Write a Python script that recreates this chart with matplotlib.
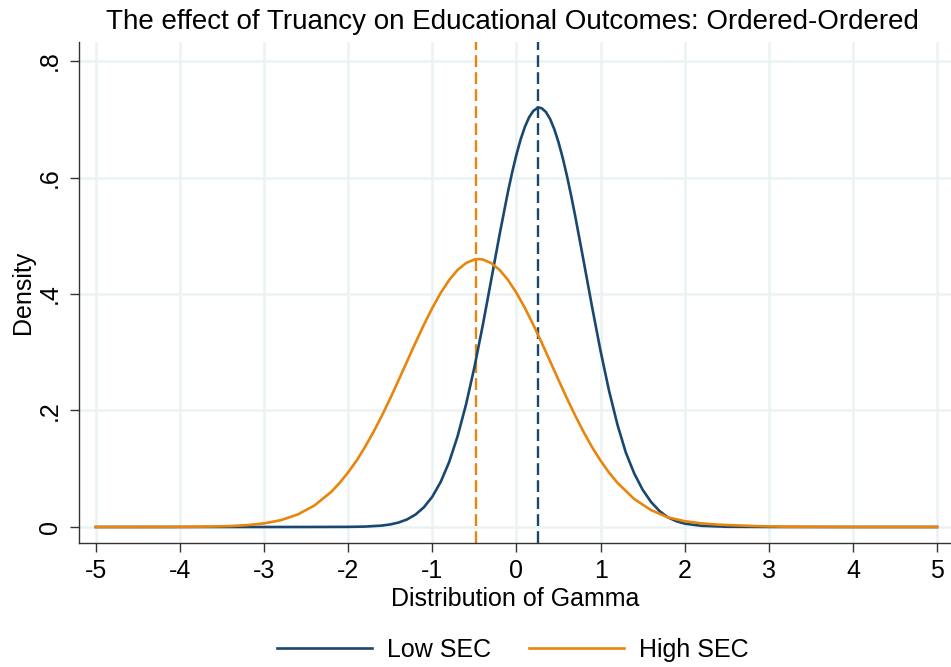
import matplotlib
matplotlib.use("Agg")
import matplotlib.pyplot as plt
from matplotlib.lines import Line2D

plt.rcParams['font.family'] = ['Liberation Sans', 'DejaVu Sans']

TITLE = 'The effect of Truancy on Educational Outcomes: Ordered-Ordered'
X_LABEL = 'Distribution of Gamma'
Y_LABEL = 'Density'
SERIES = ['Low SEC', 'High SEC']
COLORS = ['#1a476f', '#e8850c']

x_ticks = [-5, -4, -3, -2, -1, 0, 1, 2, 3, 4, 5]
y_ticks = [0, 0.2, 0.4, 0.6, 0.8]
y_tick_labels = ['0', '.2', '.4', '.6', '.8']

# means drawn as dashed vertical lines
means = [0.26, -0.48]

# density curve, Low SEC
low_x = [-5.0, -4.0, -3.0, -2.5, -2.0, -1.8, -1.6,
         -1.5, -1.4, -1.3, -1.2, -1.1, -1.0, -0.9, -0.8, -0.7, -0.6,
         -0.5, -0.4, -0.3, -0.2, -0.1, -0.05, 0.0, 0.05, 0.1, 0.15, 0.2, 0.25,
         0.27, 0.3, 0.35, 0.4, 0.45, 0.5, 0.55, 0.6, 0.65, 0.7, 0.8, 0.9, 1.0,
         1.1, 1.2, 1.3, 1.4, 1.5, 1.6, 1.7, 1.8, 1.9, 2.0, 2.2, 2.5, 3.0, 4.0, 5.0]
low_y = [0.0, 0.0, 0.0, 0.0, 0.0002, 0.0007, 0.0024,
         0.0044, 0.0077, 0.0130, 0.0213, 0.0339, 0.0520, 0.0775, 0.1115, 0.1556, 0.2099,
         0.2741, 0.3466, 0.4242, 0.5024, 0.5761, 0.6094, 0.6394, 0.6654, 0.6869, 0.7033, 0.7142, 0.7195,
         0.7200, 0.7189, 0.7125, 0.7005, 0.6830, 0.6605, 0.6337, 0.6030, 0.5691, 0.5328, 0.4556, 0.3772, 0.3022,
         0.2344, 0.1760, 0.1279, 0.0920, 0.0640, 0.0430, 0.0275, 0.0165, 0.0100, 0.0058, 0.0020, 0.0004, 0.0, 0.0, 0.0]

# density curve, High SEC
high_x = [-5.0, -4.5, -4.0, -3.6, -3.4, -3.2, -3.0, -2.8, -2.6, -2.4, -2.2, -2.1,
          -2.0, -1.9, -1.8, -1.7, -1.6, -1.5, -1.4, -1.3, -1.2, -1.1, -1.0, -0.9,
          -0.8, -0.7, -0.6, -0.5, -0.45, -0.4, -0.3, -0.2, -0.1, 0.0, 0.1, 0.2,
          0.3, 0.4, 0.5, 0.6, 0.7, 0.8, 0.9, 1.0, 1.1, 1.2, 1.4, 1.6, 1.8,
          2.0, 2.2, 2.4, 2.6, 2.8, 3.0, 3.2, 4.0, 5.0]
high_y = [0.0, 0.0, 0.0002, 0.0008, 0.0016, 0.0032, 0.0062, 0.0117, 0.0215, 0.0370, 0.0605, 0.0760,
          0.0940, 0.1140, 0.1375, 0.1630, 0.1910, 0.2209, 0.2524, 0.2845, 0.3164, 0.3473, 0.3761, 0.4020,
          0.4240, 0.4413, 0.4531, 0.4592, 0.4600, 0.4592, 0.4531, 0.4413, 0.4240, 0.4020, 0.3761, 0.3473,
          0.3164, 0.2845, 0.2524, 0.2209, 0.1908, 0.1627, 0.1368, 0.1140, 0.0935, 0.0760, 0.0480, 0.0290, 0.0165,
          0.0100, 0.0062, 0.0040, 0.0028, 0.0018, 0.0010, 0.0005, 0.0, 0.0]

fig = plt.figure(figsize=(9.51, 6.67), dpi=100)
ax = fig.add_axes([0.0831, 0.1859, 0.9169, 0.7511])

ax.plot(low_x, low_y, color=COLORS[0], lw=1.9, zorder=3)
ax.plot(high_x, high_y, color=COLORS[1], lw=1.9, zorder=3)
for m, c in zip(means, COLORS):
    ax.axvline(m, color=c, lw=1.7, dashes=(5, 2.2), zorder=2)

ax.set_xlim(-5.2, 5.166)
ax.set_ylim(-0.0275, 0.8326)
ax.set_xticks(x_ticks)
ax.set_xticklabels([str(t) for t in x_ticks])
ax.set_yticks(y_ticks)
ax.set_yticklabels(y_tick_labels, rotation=90, va='center')

ax.grid(True, color='#eaf2f3', lw=1.8, zorder=0)
ax.set_axisbelow(True)
for s in ['top', 'right']:
    ax.spines[s].set_visible(False)
for s in ['left', 'bottom']:
    ax.spines[s].set_color('#333333')
    ax.spines[s].set_linewidth(1.0)

ax.tick_params(axis='both', labelsize=18, length=6.5, width=1, color='#333333')
ax.tick_params(axis='x', pad=5)
ax.tick_params(axis='y', pad=6)

ax.set_xlabel(X_LABEL, fontsize=18, labelpad=3)
ax.set_ylabel(Y_LABEL, fontsize=18, labelpad=2)

fig.text(512 / 951, 1 - 22 / 667, TITLE, fontsize=20, ha='center', va='center')

handles = [Line2D([0], [0], color=c, lw=1.9) for c in COLORS]
fig.legend(handles, SERIES, loc='center', bbox_to_anchor=(513 / 951, 1 - 650 / 667),
           ncol=2, frameon=False, fontsize=18, handlelength=3.8,
           handletextpad=0.6, columnspacing=1.5)

fig.savefig('out.png', dpi=100)
